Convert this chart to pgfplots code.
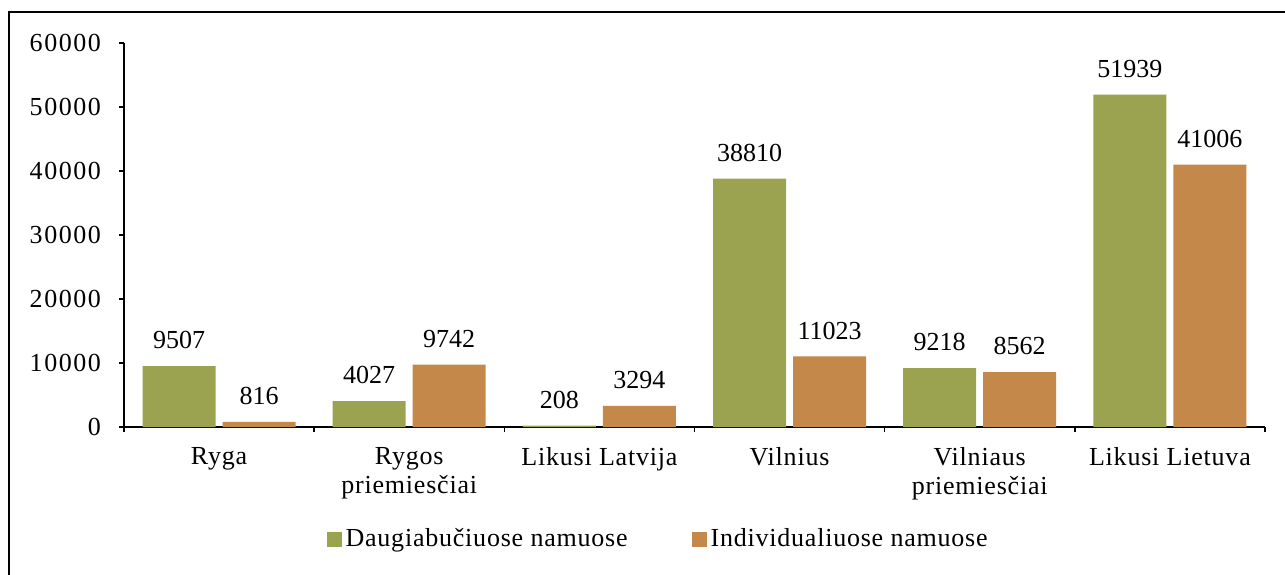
\documentclass[border=0pt]{standalone}
\usepackage{fontspec}
\setmainfont{Liberation Serif}[LetterSpace=3]
\newfontfamily\numfont{Liberation Serif}
\newfontfamily\tickfont{Liberation Serif}[LetterSpace=6]
\usepackage{pgfplots}
\pgfplotsset{compat=1.18}
\definecolor{cgreen}{RGB}{155,162,80}
\definecolor{corange}{RGB}{197,136,75}
\newcommand{\lbl}{\fontsize{13}{14.5}\selectfont}
\begin{document}
\lbl
\begin{tikzpicture}[x=1pt,y=1pt]
\useasboundingbox (0,0) rectangle (642.5,287);
\draw[line width=1pt] (4.5,-2) -- (4.5,281) -- (644,281);
\begin{axis}[
  at={(62pt,73.5pt)}, anchor=south west,
  scale only axis, width=570.5pt, height=192pt,
  xmin=-0.5, xmax=5.5, ymin=0, ymax=60000,
  ybar=3.5pt, bar width=36.5pt,
  axis x line*=bottom, axis y line*=left,
  axis line style={-, line width=0.75pt},
  tick align=outside,
  major tick length=2.5pt, minor tick length=2.5pt,
  tick style={line width=0.75pt, black},
  xtick={0,1,2,3,4,5},
  major x tick style={draw=none},
  minor xtick={-0.5,0.5,1.5,2.5,3.5,4.5,5.5},
  xticklabels={Ryga,{Rygos\\priemiesčiai},Likusi Latvija,Vilnius,{Vilniaus\\priemiesčiai},Likusi Lietuva},
  xticklabel style={font=\lbl, align=center, yshift=-3pt},
  ytick={0,10000,...,60000},
  scaled y ticks=false,
  yticklabel style={font=\lbl\tickfont, xshift=-4.5pt},
  /pgf/number format/assume math mode=true,
  /pgf/number format/1000 sep={},
  nodes near coords={\pgfmathprintnumber[1000 sep={},assume math mode=true]{\pgfplotspointmeta}},
  nodes near coords style={font=\lbl\numfont, yshift=4pt},
  legend style={at={(0.469,-0.294)}, anchor=center, draw=none, font=\lbl,
    legend columns=2,
    /tikz/every even column/.append style={column sep=30pt}},
]
\addplot[fill=cgreen, draw=none,
  legend image code/.code={\fill[cgreen] (0pt,-3.5pt) rectangle (7.5pt,4pt);}]
  coordinates {(0,9507) (1,4027) (2,208) (3,38810) (4,9218) (5,51939)};
\addplot[fill=corange, draw=none,
  legend image code/.code={\fill[corange] (0pt,-3.5pt) rectangle (7.5pt,4pt);}]
  coordinates {(0,816) (1,9742) (2,3294) (3,11023) (4,8562) (5,41006)};
\legend{Daugiabučiuose namuose, Individualiuose namuose}
\end{axis}
\end{tikzpicture}
\end{document}
